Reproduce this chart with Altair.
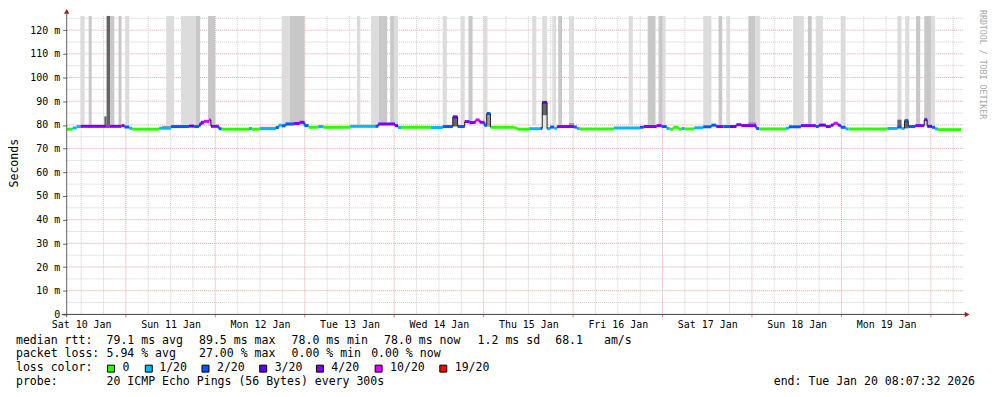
import altair as alt
import pandas as pd

MONO = "DejaVu Sans Mono"

# ---------------- data ----------------
day_labels = ["Sat 10 Jan", "Sun 11 Jan", "Mon 12 Jan", "Tue 13 Jan", "Wed 14 Jan",
              "Thu 15 Jan", "Fri 16 Jan", "Sat 17 Jan", "Sun 18 Jan", "Mon 19 Jan"]
# hours since the graph start (Sat 10 Jan 08:07:32)
first_noon_h = 3.874
first_midnight_h = 15.874
span_h = 240
y_top_ms = 126

# median rtt, step line: start hour of each step, median (ms), lost pings (of 20)
med_t = [0.0, 1.6, 2.7, 3.7, 10.7, 11.5, 14.7, 15.5, 16.8, 17.6, 24.8, 28.0, 32.8, 34.2,
         35.5, 36.0, 36.8, 38.2, 38.7, 40.8, 41.6, 48.9, 49.7, 51.8, 56.1, 56.9, 57.7,
         58.7, 60.9, 62.5, 63.8, 64.9, 67.5, 68.9, 76.1, 82.8, 83.6, 88.1, 88.9, 89.7,
         97.7, 100.9, 103.6, 104.9, 106.8, 108.1, 109.7, 110.8, 112.1, 112.7, 113.7,
         120.1, 120.9, 124.1, 127.1, 127.6, 128.9, 129.7, 130.8, 131.6, 136.1, 136.9,
         137.7, 146.8, 153.8, 154.8, 158.3, 159.6, 161.0, 161.8, 162.8, 164.2, 165.0,
         165.8, 168.4, 170.8, 173.0, 174.3, 176.2, 177.8, 179.7, 181.0, 185.0, 185.8,
         193.0, 193.8, 197.0, 201.0, 201.8, 203.7, 205.0, 205.8, 206.9, 207.7, 209.0,
         209.8, 220.2, 222.9, 224.0, 224.8, 225.8, 227.7, 230.1, 230.9, 232.2, 233.0,
         233.8]
med_ms = [78.2, 78.7, 79.3, 79.4, 79.3, 79.4, 79.7, 79.1, 78.6, 78.2, 78.6, 79.3, 79.5, 79.3,
          80.0, 81.1, 81.5, 82.1, 79.4, 78.4, 78.2, 78.5, 78.2, 78.4, 78.9, 79.9, 79.6,
          80.4, 80.6, 81.1, 79.7, 79.0, 79.3, 79.0, 79.4, 79.4, 80.4, 79.7, 78.9, 79.0,
          78.9, 79.3, 83.4, 79.3, 81.4, 81.0, 82.1, 81.1, 79.7, 84.8, 79.0,
          78.7, 78.2, 78.4, 78.5, 89.5, 78.4, 79.1, 78.6, 79.3, 79.1, 78.5,
          78.3, 78.7, 79.0, 79.3, 79.7, 79.3, 78.5, 78.2, 79.0, 78.2, 78.5,
          78.3, 78.8, 79.2, 79.9, 79.3, 79.3, 79.3, 80.1, 79.7, 78.5, 78.3,
          78.6, 79.2, 79.7, 79.3, 79.9, 79.3, 79.9, 80.7, 79.9, 79.0, 78.3,
          78.3, 78.5, 79.1, 78.5, 81.8, 79.3, 79.7, 82.2, 79.4, 79.0, 78.3,
          78.0]
med_loss = [0, 1, 1, 4, 10, 4, 4, 2, 1, 0, 1, 2, 3, 2,
            3, 4, 10, 10, 4, 2, 0, 1, 0, 1, 2, 1, 2,
            2, 4, 4, 2, 0, 1, 0, 1, 2, 4, 3, 1, 0,
            1, 2, 3, 2, 4, 4, 10, 4, 2, 2, 0,
            0, 0, 1, 2, 3, 1, 2, 1, 4, 2, 1,
            0, 1, 2, 4, 4, 2, 1, 0, 0, 0, 1,
            0, 1, 2, 2, 4, 2, 3, 4, 4, 2, 0,
            1, 2, 4, 2, 3, 4, 3, 10, 4, 2, 1,
            0, 1, 2, 1, 2, 2, 4, 4, 3, 2, 1,
            0]

# smoke reaching beyond the top of the graph
tall_t0 = [3.7, 5.9, 10.7, 11.7, 13.9, 15.8, 26.7, 30.7, 34.7, 37.9, 57.7, 59.8, 77.9, 81.7,
           83.8, 86.8, 87.8, 100.9, 105.7, 107.8, 111.9, 124.9, 127.6, 130.3, 131.9, 134.8,
           150.8, 155.9, 158.8, 159.9, 170.8, 174.9, 177.0, 182.9, 184.7, 194.9, 198.9,
           201.0, 207.7, 222.9, 225.0, 227.9, 230.1, 232.0]
tall_t1 = [4.8, 6.7, 11.7, 12.8, 14.7, 16.8, 28.8, 34.7, 35.8, 39.8, 59.8, 63.8, 78.8, 83.8,
           86.0, 87.8, 88.9, 102.0, 106.8, 108.9, 112.9, 126.0, 128.9, 131.3, 132.9, 136.1,
           151.9, 158.0, 159.9, 160.7, 173.0, 175.9, 178.0, 184.7, 186.1, 197.8, 199.9,
           202.9, 209.0, 224.0, 226.1, 229.0, 232.0, 233.0]
tall_shade = ["light", "medium", "dark", "medium", "medium", "light", "light", "light", "medium",
              "medium", "light", "medium", "light", "light", "medium", "medium", "light", "light",
              "light", "medium", "light", "light", "light", "light", "medium", "light", "light",
              "medium", "medium", "light", "light", "medium", "light", "medium", "light", "light",
              "medium", "light", "light", "light", "light", "medium", "medium", "light"]
smoke_floor_ms = 79.8

# smoke close to the median line
low_t0 = [10.1, 25.6, 51.8, 76.1, 35.5, 103.6, 112.7, 127.6, 127.6, 134.8, 149.0, 181.0, 182.9,
          222.9, 224.8, 106.8]
low_t1 = [10.7, 28.0, 56.1, 82.8, 36.8, 104.9, 113.7, 128.9, 128.9, 136.1, 153.8, 182.9, 185.0,
          224.0, 225.8, 108.1]
low_lo = [79.4, 78.7, 78.4, 79.4, 79.9, 79.3, 79.3, 84.0, 78.4, 79.3, 78.6, 79.7, 79.7,
          79.1, 78.5, 81.0]
low_hi = [83.6, 79.6, 79.2, 79.9, 80.8, 83.4, 84.8, 89.5, 84.0, 80.8, 79.3, 80.4, 81.1,
          82.2, 81.8, 81.4]
low_shade = ["dark", "grey", "grey", "grey", "grey", "dark", "grey", "dark", "pale", "grey",
             "pale", "grey", "grey", "dark", "dark", "grey"]

shade_names = ["light", "medium", "dark", "grey", "pale"]
shade_colors = ["#dcdcdc", "#c8c8c8", "#656565", "#9c9c9c", "#e6e6e6"]

loss_levels = [0, 1, 2, 3, 4, 10, 19]
loss_colors = ["#26ff00", "#00b8ff", "#0059ff", "#5e00ff", "#7e00ff", "#dd00ff", "#ff0000"]
loss_labels = ["0", "1/20", "2/20", "3/20", "4/20", "10/20", "19/20"]

median_stats = ["79.1 ms avg", "89.5 ms max", "78.0 ms min", "78.0 ms now", "1.2 ms sd", "68.1", "am/s"]
loss_stats = ["5.94 % avg", "27.00 % max", "0.00 % min", "0.00 % now"]
probe_text = "20 ICMP Echo Pings (56 Bytes) every 300s"
end_text = "end: Tue Jan 20 08:07:32 2026"
watermark = "RRDTOOL / TOBI OETIKER"

# ---------------- tables ----------------
seg = pd.DataFrame({"t0": med_t, "t1": med_t[1:] + [span_h], "ms": med_ms, "loss": med_loss})
conn = pd.DataFrame({"t0": med_t[1:], "ms": med_ms[:-1], "b": med_ms[1:], "loss": med_loss[1:]})
conn["jump"] = (conn["b"] - conn["ms"]).abs()
conn_small = conn[conn["jump"] <= 1.5]
conn_big = conn[conn["jump"] > 1.5]
tall = pd.DataFrame({"t0": tall_t0, "t1": tall_t1, "shade": tall_shade, "ms": smoke_floor_ms})
low = pd.DataFrame({"t0": low_t0, "t1": low_t1, "ms": low_lo, "hi": low_hi, "shade": low_shade})

noons = [first_noon_h + 24 * k for k in range(len(day_labels))]
midnights = [first_midnight_h + 24 * k for k in range(10) if first_midnight_h + 24 * k < span_h]
six_h = [first_noon_h + 6 * k for k in range(41) if first_noon_h + 6 * k < span_h]
minor_v = [h for h in six_h if all(abs(h - m) > 0.01 for m in midnights)]
minor_h = list(range(5, y_top_ms, 10))
major_h = list(range(10, y_top_ms, 10))

xscale = alt.Scale(domain=[0, span_h], nice=False, zero=False)
yscale = alt.Scale(domain=[0, y_top_ms], nice=False, zero=True)
shade_scale = alt.Scale(domain=shade_names, range=shade_colors)
loss_scale = alt.Scale(domain=loss_levels, range=loss_colors)

label_array = "[" + ",".join("'" + d + "'" for d in day_labels) + "]"
x_label_expr = label_array + "[round((datum.value - %s) / 24)]" % first_noon_h

X_AXIS = alt.Axis(values=noons, labelExpr=x_label_expr, grid=False, domain=False, ticks=False,
                  labelFont=MONO, labelFontSize=10, labelColor="#000000", labelPadding=5,
                  labelFlush=False, labelOverlap=False, title=None)
Y_AXIS = alt.Axis(values=list(range(0, 121, 10)),
                  labelExpr="datum.value == 0 ? '0\u00a0\u00a0' : datum.value + ' m'",
                  grid=False, domain=False, ticks=True, tickSize=4, tickColor="#606060",
                  labelFont=MONO, labelFontSize=10, labelColor="#000000", labelPadding=3,
                  labelFlush=False, labelOverlap=False, title=None)


def X(field="t0"):
    return alt.X(field + ":Q", scale=xscale, axis=X_AXIS)


def Y(field="ms"):
    return alt.Y(field + ":Q", scale=yscale, axis=Y_AXIS)


one = pd.DataFrame({"k": [0]})


def vrules(vals, color):
    return alt.Chart(pd.DataFrame({"t0": vals})).mark_rule(
        color=color, strokeDash=[1, 1], strokeWidth=1).encode(
        x=X(), y=alt.value(0), y2=alt.value(300))


def hrules(vals, color):
    return alt.Chart(pd.DataFrame({"ms": vals})).mark_rule(
        color=color, strokeDash=[1, 1], strokeWidth=1).encode(
        y=Y(), x=alt.value(0), x2=alt.value(902))


grid_minor_v = vrules(minor_v, "#cdcdcd")
grid_minor_h = hrules(minor_h, "#cdcdcd")
grid_major_v = vrules(midnights, "#e9a0a0")
grid_major_h = hrules(major_h, "#e9a0a0")

tall_layer = alt.Chart(tall).mark_rect().encode(
    x=X(), x2="t1", y=Y(), y2=alt.value(0),
    color=alt.Color("shade:N", scale=shade_scale, legend=None))

low_layer = alt.Chart(low).mark_rect().encode(
    x=X(), x2="t1", y=Y(), y2="hi",
    color=alt.Color("shade:N", scale=shade_scale, legend=None))

conn_small_layer = alt.Chart(conn_small).mark_rule(strokeWidth=2).encode(
    x=X(), y=Y(), y2="b",
    color=alt.Color("loss:O", scale=loss_scale, legend=None))

conn_big_layer = alt.Chart(conn_big).mark_rule(strokeWidth=1, color="#202020").encode(
    x=X(), y=Y(), y2="b")

seg_layer = alt.Chart(seg).mark_rule(strokeWidth=3, strokeCap="butt").encode(
    x=X(), x2="t1", y=Y(),
    color=alt.Color("loss:O", scale=loss_scale, legend=None))

# axis lines, ticks and arrows
x_ticks = alt.Chart(pd.DataFrame({"t0": midnights})).mark_rule(color="#e08080").encode(
    x=X(), y=alt.value(300), y2=alt.value(303))
left_axis = alt.Chart(one).mark_rule(color="#606060").encode(
    x=alt.value(0), y=alt.value(-3), y2=alt.value(303))
bottom_axis = alt.Chart(one).mark_rule(color="#404040").encode(
    x=alt.value(-5), x2=alt.value(903), y=alt.value(300))
up_arrow = alt.Chart(one).mark_point(shape="triangle-up", filled=True, color="#9b2020",
                                     size=30, opacity=1).encode(
    x=alt.value(0), y=alt.value(-4.5))
right_arrow = alt.Chart(one).mark_point(shape="triangle-right", filled=True, color="#9b2020",
                                        size=30, opacity=1).encode(
    x=alt.value(905), y=alt.value(300))


def txt(s, x, y, align="left", color="#000000", size=11.6, angle=0):
    return alt.Chart(one).mark_text(align=align, baseline="middle", font=MONO,
                                    fontSize=size, color=color, angle=angle).encode(
        x=alt.value(x), y=alt.value(y), text=alt.value(s))


texts = []
texts.append(txt("Seconds", -52, 148, align="center", angle=270))
texts.append(txt(watermark, 920, -6, align="left", color="#a8a8a8", size=8.3, angle=90))

L1, L2, L3, L4 = 326.7, 340.0, 354.3, 367.7
texts.append(txt("median rtt:", -51, L1))
for s, x in zip(median_stats, [40, 133, 226, 319, 413, 491, 540]):
    texts.append(txt(s, x, L1))
texts.append(txt("packet loss:", -51, L2))
for s, x in zip(loss_stats, [40, 133, 226, 306]):
    texts.append(txt(s, x, L2))
texts.append(txt("loss color:", -51, L3))
box_x = [41, 79, 136, 194, 251, 310, 375]
lab_x = [56, 93, 151, 209, 266, 325, 390]
boxes = []
for c, bx in zip(loss_colors, box_x):
    boxes.append(alt.Chart(one).mark_rect(fill=c, stroke="#000000", strokeWidth=1).encode(
        x=alt.value(bx), x2=alt.value(bx + 7), y=alt.value(351), y2=alt.value(358)))
for s, x in zip(loss_labels, lab_x):
    texts.append(txt(s, x, L3))
texts.append(txt("probe:", -51, L4))
texts.append(txt(probe_text, 40, L4))
texts.append(txt(end_text, 913, L4, align="right"))

chart = alt.layer(
    grid_minor_v, grid_minor_h, grid_major_v, grid_major_h,
    tall_layer, low_layer,
    conn_small_layer, seg_layer, conn_big_layer,
    x_ticks, left_axis, bottom_axis, up_arrow, right_arrow,
    *boxes, *texts,
).properties(
    width=899, height=300,
    autosize=alt.AutoSizeParams(type="none"),
    padding={"left": 59, "top": 7, "right": 28, "bottom": 76},
    background="#ffffff",
).configure_view(stroke=None).resolve_scale(color="independent")

chart.save("out.html", embed_options={"renderer": "svg", "actions": False})
